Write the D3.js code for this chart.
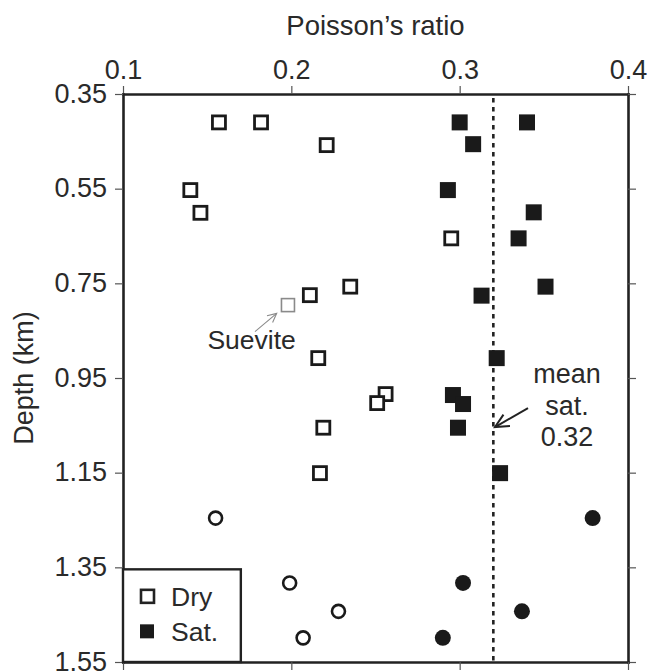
<!DOCTYPE html>
<html>
<head>
<meta charset="utf-8">
<script src="https://cdn.jsdelivr.net/npm/d3@7"></script>
<style>
  body { margin: 0; background: #fff; }
  text { font-family: "Liberation Sans", Arial, sans-serif; fill: #2a2a2a; }
</style>
</head>
<body>
<div id="chart"></div>
<script>
// values: [Poisson's ratio, depth km]
const drySquares = [
  [0.157, 0.410], [0.182, 0.410], [0.221, 0.458], [0.140, 0.553], [0.146, 0.601],
  [0.295, 0.655], [0.235, 0.757], [0.211, 0.775], [0.216, 0.908], [0.256, 0.984],
  [0.251, 1.003], [0.219, 1.055], [0.217, 1.151]
];
const suevite = [[0.198, 0.796]];
const satSquares = [
  [0.300, 0.410], [0.340, 0.410], [0.308, 0.456], [0.293, 0.553], [0.344, 0.600],
  [0.335, 0.655], [0.351, 0.757], [0.313, 0.776], [0.322, 0.908], [0.296, 0.986],
  [0.302, 1.005], [0.299, 1.055], [0.324, 1.151]
];
const dryCircles = [[0.155, 1.246], [0.199, 1.383], [0.228, 1.443], [0.207, 1.499]];
const satCircles = [[0.379, 1.246], [0.302, 1.383], [0.337, 1.443], [0.290, 1.499]];
const meanSat = 0.32;
const xTicks = [0.1, 0.2, 0.3, 0.4];
const yTicks = [0.35, 0.55, 0.75, 0.95, 1.15, 1.35, 1.55];
const legendItems = ["Dry", "Sat."];
const meanLines = ["mean", "sat.", "0.32"];

const margin = { top: 94, right: 20, bottom: 9, left: 123 };
const width = 648 - margin.left - margin.right;
const height = 671 - margin.top - margin.bottom;
const ink = "#222";

const svg = d3.select("#chart")
  .append("svg")
  .attr("width", 648)
  .attr("height", 671)
  .append("g")
  .attr("transform", `translate(${margin.left}, ${margin.top})`);

const x = d3.scaleLinear().domain([0.1, 0.4]).range([0, width]);
const y = d3.scaleLinear().domain([0.35, 1.55]).range([0, height]);

// four framed axes, ticks pointing outwards
const axTop = svg.append("g")
  .call(d3.axisTop(x).tickValues(xTicks).tickFormat(d3.format(".1f")).tickSize(8).tickSizeOuter(0).tickPadding(7));
const axLeft = svg.append("g")
  .call(d3.axisLeft(y).tickValues(yTicks).tickFormat(d3.format(".2f")).tickSize(8).tickSizeOuter(0).tickPadding(8));
const axRight = svg.append("g")
  .attr("transform", `translate(${width}, 0)`)
  .call(d3.axisRight(y).tickValues(yTicks).tickFormat("").tickSize(8).tickSizeOuter(0));
const axBottom = svg.append("g")
  .attr("transform", `translate(0, ${height})`)
  .call(d3.axisBottom(x).tickValues(xTicks).tickFormat("").tickSize(8).tickSizeOuter(0));

[axTop, axLeft, axRight, axBottom].forEach(g => {
  g.select(".domain").attr("stroke", ink).attr("stroke-width", 2.6).attr("stroke-linecap", "square");
  g.selectAll(".tick line").attr("stroke", "#555").attr("stroke-width", 1.2);
  g.selectAll(".tick text").style("font-size", "27px").attr("fill", "#2a2a2a")
    .style("font-family", "'Liberation Sans', Arial, sans-serif");
});
axLeft.selectAll(".tick text").attr("dy", "0.3em");

// axis titles
svg.append("text")
  .attr("x", width / 2)
  .attr("y", -59)
  .attr("text-anchor", "middle")
  .style("font-size", "27.5px")
  .text("Poisson\u2019s ratio");

svg.append("text")
  .attr("transform", `translate(${-margin.left + 33}, ${height / 2}) rotate(-90)`)
  .attr("text-anchor", "middle")
  .style("font-size", "27px")
  .text("Depth (km)");

// mean saturated line
svg.append("line")
  .attr("x1", x(meanSat)).attr("x2", x(meanSat))
  .attr("y1", 4).attr("y2", height)
  .attr("stroke", ink)
  .attr("stroke-width", 2.6)
  .attr("stroke-dasharray", "4.5,4.5");

const sq = 13, sqFill = 16, r = 6.5;

svg.append("g").selectAll("rect")
  .data(drySquares)
  .join("rect")
  .attr("x", d => x(d[0]) - sq / 2)
  .attr("y", d => y(d[1]) - sq / 2)
  .attr("width", sq).attr("height", sq)
  .attr("fill", "#fff")
  .attr("stroke", "#1a1a1a")
  .attr("stroke-width", 2.8);

svg.append("g").selectAll("rect")
  .data(suevite)
  .join("rect")
  .attr("x", d => x(d[0]) - sq / 2)
  .attr("y", d => y(d[1]) - sq / 2)
  .attr("width", sq).attr("height", sq)
  .attr("fill", "#fff")
  .attr("stroke", "#8a8a8a")
  .attr("stroke-width", 1.6);

svg.append("g").selectAll("rect")
  .data(satSquares)
  .join("rect")
  .attr("x", d => x(d[0]) - sqFill / 2)
  .attr("y", d => y(d[1]) - sqFill / 2)
  .attr("width", sqFill).attr("height", sqFill)
  .attr("fill", "#1a1a1a");

svg.append("g").selectAll("circle")
  .data(dryCircles)
  .join("circle")
  .attr("cx", d => x(d[0]))
  .attr("cy", d => y(d[1]))
  .attr("r", r)
  .attr("fill", "#fff")
  .attr("stroke", "#1a1a1a")
  .attr("stroke-width", 2.6);

svg.append("g").selectAll("circle")
  .data(satCircles)
  .join("circle")
  .attr("cx", d => x(d[0]))
  .attr("cy", d => y(d[1]))
  .attr("r", 8)
  .attr("fill", "#1a1a1a");

// open arrow helper
function arrow(from, to, color, w, head) {
  const x1 = x(from[0]), y1 = y(from[1]), x2 = x(to[0]), y2 = y(to[1]);
  const a = Math.atan2(y2 - y1, x2 - x1);
  svg.append("line")
    .attr("x1", x1).attr("y1", y1).attr("x2", x2).attr("y2", y2)
    .attr("stroke", color).attr("stroke-width", w);
  const p1 = [x2 - head * Math.cos(a - 0.45), y2 - head * Math.sin(a - 0.45)];
  const p2 = [x2 - head * Math.cos(a + 0.45), y2 - head * Math.sin(a + 0.45)];
  svg.append("path")
    .attr("d", `M${p1}L${x2},${y2}L${p2}`)
    .attr("fill", "none").attr("stroke", color).attr("stroke-width", w);
}

// suevite label
svg.append("text")
  .attr("x", x(0.1764))
  .attr("y", y(0.889))
  .attr("text-anchor", "middle")
  .style("font-size", "26.5px")
  .text("Suevite");
arrow([0.1784, 0.852], [0.1913, 0.8134], "#8a8a8a", 1.1, 10);

// mean annotation
svg.append("text")
  .attr("x", x(0.3638))
  .attr("y", y(0.9606))
  .attr("text-anchor", "middle")
  .style("font-size", "27px")
  .selectAll("tspan")
  .data(meanLines)
  .join("tspan")
  .attr("x", x(0.3638))
  .attr("dy", (d, i) => i === 0 ? 0 : 31.5)
  .text(d => d);
arrow([0.3406, 1.0134], [0.321, 1.0536], ink, 2, 15);

// legend box
const lg = svg.append("g");
lg.append("rect")
  .attr("x", 0).attr("y", y(1.35) + 2)
  .attr("width", x(0.17) - x(0.1))
  .attr("height", height - y(1.35) - 2)
  .attr("fill", "#fff")
  .attr("stroke", ink)
  .attr("stroke-width", 2.4);

legendItems.forEach((name, i) => {
  const cy = y(1.35) + 29 + i * 35;
  if (i === 0) {
    lg.append("rect").attr("x", 18).attr("y", cy - sq / 2).attr("width", sq).attr("height", sq)
      .attr("fill", "#fff").attr("stroke", ink).attr("stroke-width", 2.6);
  } else {
    lg.append("rect").attr("x", 17).attr("y", cy - 7).attr("width", 14).attr("height", 14)
      .attr("fill", "#1a1a1a");
  }
  lg.append("text")
    .attr("x", 48)
    .attr("y", cy)
    .attr("dy", "0.36em")
    .style("font-size", "26.5px")
    .text(name);
});
</script>
</body>
</html>
